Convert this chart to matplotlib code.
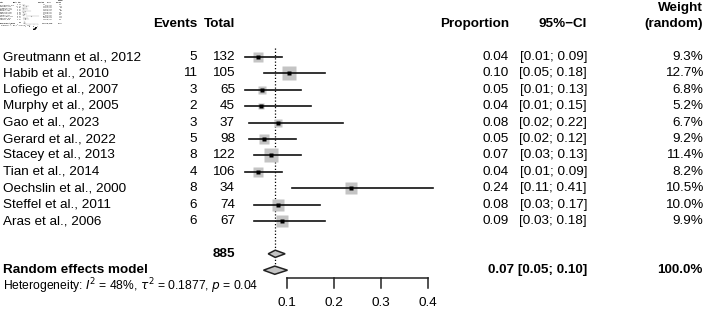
import numpy as np
import matplotlib.pyplot as plt
from matplotlib.patches import Polygon

plt.rcParams['font.family'] = ['Liberation Sans', 'DejaVu Sans']

# study table
studies = ["Greutmann et al., 2012", "Habib et al., 2010", "Lofiego et al., 2007",
           "Murphy et al., 2005", "Gao et al., 2023", "Gerard et al., 2022",
           "Stacey et al., 2013", "Tian et al., 2014", "Oechslin et al., 2000",
           "Steffel et al., 2011", "Aras et al., 2006"]
events = [5, 11, 3, 2, 3, 5, 8, 4, 8, 6, 6]
totals = [132, 105, 65, 45, 37, 98, 122, 106, 34, 74, 67]
est = [0.038, 0.105, 0.046, 0.044, 0.081, 0.051, 0.066, 0.038, 0.236, 0.081, 0.090]
ci_low = [0.01, 0.05, 0.01, 0.01, 0.02, 0.02, 0.03, 0.01, 0.11, 0.03, 0.03]
ci_high = [0.09, 0.18, 0.13, 0.15, 0.22, 0.12, 0.13, 0.09, 0.41, 0.17, 0.18]
weights = [9.3, 12.7, 6.8, 5.2, 6.7, 9.2, 11.4, 8.2, 10.5, 10.0, 9.9]

# pooled results
total_n = 885
common_diamond = [0.060, 0.075, 0.096]
random_diamond = [0.050, 0.074, 0.101]
pooled_label = "0.07 [0.05; 0.10]"
het_text = r"Heterogeneity: $I^2$ = 48%, $\tau^2$ = 0.1877, $p$ = 0.04"
xticks = [0.1, 0.2, 0.3, 0.4]

W, H = 708, 310
# layout: px = 240 + 470*p ; row y px = 57 + 16.4*row
X0, XS = 240, 470
Y0, YS = 57, 16.4


def px(x):
    return x / W


def draw(ax, s):
    #s scales fonts and line widths (1 for main figure, small for thumbnail)
    fs = 9.7 * s
    tr = ax.get_yaxis_transform()
    ax.set_xlim(-X0 / XS, (W - X0) / XS)
    ax.set_ylim((H - Y0) / YS, -Y0 / YS)

    # headers
    ax.text(px(3), -2, "Study", transform=tr, ha='left', va='center', fontsize=fs, fontweight='bold')
    ax.text(px(197), -2, "Events", transform=tr, ha='right', va='center', fontsize=fs, fontweight='bold')
    ax.text(px(235), -2, "Total", transform=tr, ha='right', va='center', fontsize=fs, fontweight='bold')
    ax.text(px(509), -2, "Proportion", transform=tr, ha='right', va='center', fontsize=fs, fontweight='bold')
    ax.text(px(587), -2, "95%\u2212CI", transform=tr, ha='right', va='center', fontsize=fs, fontweight='bold')
    ax.text(px(703), -3, "Weight", transform=tr, ha='right', va='center', fontsize=fs, fontweight='bold')
    ax.text(px(703), -2, "(random)", transform=tr, ha='right', va='center', fontsize=fs, fontweight='bold')

    for i in range(len(studies)):
        ax.text(px(3), i, studies[i], transform=tr, ha='left', va='center', fontsize=fs)
        ax.text(px(197), i, str(events[i]), transform=tr, ha='right', va='center', fontsize=fs)
        ax.text(px(235), i, str(totals[i]), transform=tr, ha='right', va='center', fontsize=fs)
        ax.text(px(509), i, f"{est[i]:.2f}", transform=tr, ha='right', va='center', fontsize=fs)
        ax.text(px(587), i, f"[{ci_low[i]:.2f}; {ci_high[i]:.2f}]", transform=tr, ha='right', va='center', fontsize=fs)
        ax.text(px(703), i, f"{weights[i]:.1f}%", transform=tr, ha='right', va='center', fontsize=fs)

        ax.plot(est[i], i, marker='s', ms=weights[i] * 0.85 * s, color='#c4c4c4', mec='none', zorder=2)
        ax.plot([ci_low[i], ci_high[i]], [i, i], color='#111111', lw=1.2 * s, zorder=3)
        ax.plot(est[i], i, marker='s', ms=2.2 * s, color='black', mec='none', zorder=4)

    n = len(studies)
    ax.text(px(235), n + 1, str(total_n), transform=tr, ha='right', va='center', fontsize=fs, fontweight='bold')
    ax.text(px(3), n + 2, "Random effects model", transform=tr, ha='left', va='center', fontsize=fs, fontweight='bold')
    ax.text(px(587), n + 2, pooled_label, transform=tr, ha='right', va='center', fontsize=fs, fontweight='bold')
    ax.text(px(703), n + 2, "100.0%", transform=tr, ha='right', va='center', fontsize=fs, fontweight='bold')
    ax.text(px(3), n + 3, het_text, transform=tr, ha='left', va='center', fontsize=8.7 * s)

    # pooled line
    ax.plot([random_diamond[1]] * 2, [-0.55, n + 1.9], color='black', ls=(0, (1, 1.6)), lw=0.9 * s, zorder=1)

    # diamonds
    for row, d, hh in [(n + 1, common_diamond, 0.22), (n + 2, random_diamond, 0.25)]:
        ax.add_patch(Polygon([[d[0], row], [d[1], row - hh], [d[2], row], [d[1], row + hh]],
                             closed=True, fc='#c4c4c4', ec='#222222', lw=1.1 * s, zorder=3))

    # x axis
    ya = n + 2.5
    ax.plot([xticks[0], xticks[-1]], [ya, ya], color='#222222', lw=1.1 * s)
    for t in xticks:
        ax.plot([t, t], [ya, ya + 0.6], color='#222222', lw=1.1 * s)
        ax.text(t, ya + 1.5, f"{t:.1f}", ha='center', va='center', fontsize=fs)


fig = plt.figure(figsize=(W / 100, H / 100), dpi=100)
ax = fig.add_axes([0, 0, 1, 1])
ax.axis('off')
draw(ax, 1.0)

# small thumbnail overlay in the top-left corner
thumb = fig.add_axes([0, 1 - 27 / H, 63 / W, 27 / H])
thumb.set_facecolor('white')
thumb.set_xticks([])
thumb.set_yticks([])
for sp in thumb.spines.values():
    sp.set_visible(False)
draw(thumb, 63 / W)

fig.savefig("out.png", dpi=100)
